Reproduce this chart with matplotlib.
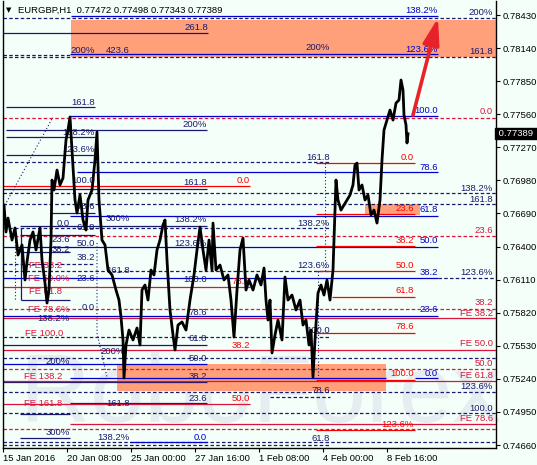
import matplotlib
matplotlib.use('Agg')
import matplotlib.pyplot as plt
from matplotlib.patches import Rectangle

plt.rcParams['font.family'] = ['Liberation Sans', 'DejaVu Sans']

# EURGBP H1, bar index (1 bar = 1 hour of trading) and price
bars = [1, 3, 5, 9, 12, 15, 19, 22, 24, 27, 30, 33, 37, 39, 42, 44, 46, 48, 49, 51,
        54, 57, 60, 63, 65, 67, 69, 72, 74, 77, 80, 83, 85, 89, 92, 94, 96, 99, 102, 105,
        109, 113, 116, 118, 120, 121, 123, 126, 130, 134, 137, 139, 142, 145, 148, 151, 154, 157, 160, 162,
        164, 167, 170, 172, 175, 179, 183, 187, 191, 194, 197, 200, 203, 206, 209, 210, 213, 217, 221, 225,
        228, 231, 234, 237, 240, 243, 246, 250, 254, 258, 261, 263, 265, 267, 269, 272, 275, 279, 282, 285,
        289, 293, 297, 300, 303, 306, 308, 310, 312, 315, 318, 321, 324, 327, 330, 333, 335, 338, 341, 344,
        347, 350, 352, 354, 356, 359, 362, 365, 368, 371, 374, 377, 379, 381, 384, 387, 390, 393, 396, 398,
        400, 401, 403, 404, 405]
prices = [0.76764, 0.76528, 0.76650, 0.76457, 0.76563, 0.76326, 0.76414, 0.76107, 0.76265, 0.76457,
          0.76528, 0.76370, 0.76563, 0.76282, 0.76080, 0.75905, 0.76019, 0.76457, 0.76983, 0.76896,
          0.77071, 0.76940, 0.77001, 0.77334, 0.77422, 0.77536, 0.77246, 0.76808, 0.76694, 0.76852,
          0.76633, 0.76545, 0.76808, 0.76896, 0.77159, 0.77404, 0.76808, 0.76457, 0.76414, 0.76194,
          0.76151, 0.76019, 0.75931, 0.75782, 0.75581, 0.75248, 0.75537, 0.75668, 0.75581, 0.75686,
          0.75537, 0.76019, 0.76063, 0.75931, 0.76194, 0.76151, 0.76370, 0.76457, 0.76589, 0.76633,
          0.76282, 0.75844, 0.75625, 0.75493, 0.75712, 0.75739, 0.75668, 0.75931, 0.76151, 0.76370,
          0.76571, 0.76370, 0.76194, 0.76457, 0.76194, 0.76606, 0.76194, 0.76238, 0.76107, 0.76151,
          0.75931, 0.75607, 0.76019, 0.76370, 0.76475, 0.76019, 0.76107, 0.76019, 0.76151, 0.76063,
          0.76212, 0.75931, 0.75756, 0.75931, 0.75467, 0.75625, 0.75756, 0.75581, 0.76133, 0.75931,
          0.75975, 0.75844, 0.75931, 0.75712, 0.75756, 0.75537, 0.75668, 0.75256, 0.75581, 0.75993,
          0.76063, 0.75975, 0.76107, 0.75931, 0.76194, 0.76983, 0.76808, 0.76720, 0.76764, 0.76808,
          0.76852, 0.76940, 0.77115, 0.77132, 0.76896, 0.76940, 0.76808, 0.76852, 0.76677, 0.76720,
          0.76606, 0.76808, 0.77159, 0.77422, 0.77509, 0.77597, 0.77509, 0.77658, 0.77685, 0.77860,
          0.77772, 0.77553, 0.77466, 0.77308, 0.77389]
last_price = 0.77389

# fibo levels: (price, first bar, last bar)
navy_dashed = [(0.78408, 0, 493), (0.78079, 0, 67), (0.78062, 0, 493), (0.77141, 0, 327),
               (0.76870, 0, 493), (0.76773, 0, 493), (0.76563, 0, 327), (0.76247, 0, 92),
               (0.76186, 0, 327), (0.76124, 435, 493), (0.75607, 0, 327), (0.75423, 0, 493),
               (0.75125, 0, 493), (0.75081, 267, 327), (0.74941, 0, 493), (0.74687, 0, 493),
               (0.74660, 0, 327)]
blue_solid = [(0.78421, 68, 435), (0.78088, 67, 435), (0.77545, 67, 435), (0.77054, 74, 435),
              (0.76668, 67, 435), (0.76396, 0, 435), (0.76124, 0, 435), (0.75791, 0, 435),
              (0.75370, 0, 204), (0.75248, 67, 383), (0.75248, 412, 435), (0.74687, 127, 204)]
navy_solid = [(0.78272, 0, 205), (0.77623, 3, 92), (0.77422, 3, 204), (0.77360, 3, 92),
              (0.77203, 3, 92), (0.76905, 0, 204), (0.76694, 47, 92), (0.76580, 17, 204),
              (0.76501, 17, 92), (0.76352, 17, 67), (0.75931, 18, 67), (0.75537, 0, 204),
              (0.75213, 0, 204), (0.75028, 67, 204), (0.74932, 17, 67), (0.74722, 17, 67)]
crimson_dashed = [(0.77531, 0, 493), (0.76493, 0, 493), (0.75853, 0, 493), (0.75327, 0, 493),
                  (0.74800, 0, 493)]
crimson_solid = [(0.76045, 0, 247), (0.75774, 0, 493), (0.75493, 0, 493), (0.75221, 0, 493),
                 (0.75019, 0, 247), (0.74844, 67, 493)]
red_solid = [(0.77132, 313, 412), (0.76931, 0, 247), (0.76685, 313, 412), (0.76405, 313, 412),
             (0.76186, 313, 412), (0.75958, 329, 412), (0.75642, 313, 412), (0.75230, 313, 412),
             (0.74791, 313, 412)]

# dotted trend lines joining fibo anchors
dotted_bars = [[2, 50], [12, 12], [94, 94, 104], [322, 322], [315, 315]]
dotted_prices = [[0.76764, 0.77536], [0.76563, 0.75931], [0.76431, 0.75642, 0.75256],
                 [0.77132, 0.76186], [0.76186, 0.75248]]

# level labels: (text, bar of right end, price)
navy_text = [('261.8', 205, 0.78325), ('200%', 92, 0.78123), ('423.6', 127, 0.78123),
             ('200%', 327, 0.78141), ('200%', 490, 0.78448), ('161.8', 490, 0.78114),
             ('161.8', 92, 0.77667), ('200%', 204, 0.77474), ('138.2%', 92, 0.77404),
             ('123.6%', 92, 0.77255), ('161.8', 327, 0.77185), ('100.0', 92, 0.76983),
             ('161.8', 204, 0.76966), ('138.2%', 490, 0.76913), ('161.8', 490, 0.76817),
             ('78.6', 92, 0.76747), ('300%', 127, 0.76650), ('138.2%', 204, 0.76633),
             ('138.2%', 327, 0.76606), ('0.0', 67, 0.76606), ('61.8', 92, 0.76563),
             ('23.6', 67, 0.76466), ('50.0', 92, 0.76431), ('123.6%', 204, 0.76431),
             ('38.2', 67, 0.76370), ('38.2', 92, 0.76300), ('123.6%', 327, 0.76238),
             ('161.8', 127, 0.76194), ('123.6%', 490, 0.76177), ('23.6', 92, 0.76124),
             ('100.0', 204, 0.76107), ('0.0', 92, 0.75870), ('78.6', 204, 0.75826),
             ('138.2%', 67, 0.75765), ('100.0', 327, 0.75660), ('61.8', 204, 0.75590),
             ('200%', 122, 0.75476), ('50.0', 204, 0.75423), ('200%', 67, 0.75388),
             ('38.2', 204, 0.75265), ('123.6%', 490, 0.75177), ('78.6', 327, 0.75134),
             ('23.6', 204, 0.75072), ('161.8', 127, 0.75028), ('100.0', 490, 0.74976),
             ('300%', 67, 0.74774), ('138.2%', 127, 0.74730), ('61.8', 327, 0.74713)]
blue_text = [('138.2%', 435, 0.78474), ('123.6%', 435, 0.78132), ('100.0', 435, 0.77597),
             ('78.6', 435, 0.77097), ('61.8', 435, 0.76729), ('50.0', 435, 0.76449),
             ('38.2', 435, 0.76177), ('23.6', 435, 0.75844), ('0.0', 435, 0.75291),
             ('0.0', 204, 0.74730)]
crimson_text = [('0.0', 490, 0.77588), ('23.6', 490, 0.76545), ('38.2', 490, 0.75914),
                ('FE 38.2', 490, 0.75817), ('FE 50.0', 490, 0.75554), ('50.0', 490, 0.75379),
                ('FE 61.8', 490, 0.75274), ('FE 78.6', 490, 0.74897),
                ('FE 38.2', 59, 0.76238), ('FE 50.0%', 67, 0.76124), ('FE 61.8', 59, 0.76010),
                ('FE 78.6%', 67, 0.75844), ('FE 100.0', 60, 0.75642), ('FE 138.2', 59, 0.75265),
                ('FE 161.8', 59, 0.75028)]
red_text = [('0.0', 247, 0.76983), ('0.0', 411, 0.77185), ('23.6', 411, 0.76738),
            ('38.2', 411, 0.76457), ('50.0', 411, 0.76238), ('61.8', 411, 0.76019),
            ('78.6', 411, 0.75695), ('38.2', 247, 0.75537), ('100.0', 411, 0.75291),
            ('50.0', 247, 0.75072), ('123.6%', 411, 0.74844), ('78.6', 247, 0.76098)]

# target zones: (first bar, last bar, low, high)
zones = [(68, 493, 0.78062, 0.78386), (362, 417, 0.76677, 0.76773), (114, 383, 0.75133, 0.75370)]
arrow_from = (410, 0.77553)
arrow_to = (435, 0.78404)

ytick_vals = [0.78430, 0.78140, 0.77850, 0.77560, 0.77270, 0.76980, 0.76690,
              0.76400, 0.76110, 0.75820, 0.75530, 0.75240, 0.74950, 0.74660]
xtick_bars = [0, 64, 128, 192, 256, 320, 384]
xtick_text = ['15 Jan 2016', '20 Jan 08:00', '25 Jan 00:00', '27 Jan 16:00',
              '1 Feb 08:00', '4 Feb 00:00', '8 Feb 16:00']

bg = '#f4fff9'
navy = '#191970'
blue = '#0000cd'
crimson = '#dc143c'
red = '#ff0000'
dash = (0, (2.8, 1.8))
fs = 6.8

fig = plt.figure(figsize=(5.37, 4.65), dpi=100, facecolor=bg)
ax = fig.add_axes([3 / 537, 17 / 465, 493 / 537, 447 / 465], facecolor=bg)
ax.set_xlim(0, 493)
ax.set_ylim(0.74634, 0.78553)

# watermark
ax.text(258, 0.75081, 'RoboForex', fontsize=70, color='#e6edf0', ha='center', va='center',
        zorder=0.5)

for x0, x1, lo, hi in zones:
    ax.add_patch(Rectangle((x0, lo), x1 - x0, hi - lo, facecolor='#ffa07a', edgecolor='none', zorder=1))

def draw_levels(levels, color, ls):
    for p, x0, x1 in levels:
        ax.hlines(p, x0, x1, colors=color, linestyles=ls, lw=0.9, zorder=2)

draw_levels(navy_dashed, navy, dash)
draw_levels(crimson_dashed, crimson, dash)
draw_levels(navy_solid, navy, 'solid')
draw_levels(blue_solid, blue, 'solid')
draw_levels(crimson_solid, crimson, 'solid')
draw_levels(red_solid, red, 'solid')

for xs, ps in zip(dotted_bars, dotted_prices):
    ax.plot(xs, ps, color=navy, lw=0.8, ls=(0, (1, 2)), zorder=2)
ax.vlines(18, 0.75931, 0.76563, colors=navy, lw=0.9, zorder=2)

for group, color in [(navy_text, navy), (blue_text, blue), (crimson_text, crimson), (red_text, red)]:
    for t, x, p in group:
        ax.text(x, p, t, ha='right', va='center', fontsize=fs, color=color, zorder=3)

ax.plot(bars, prices, color='black', lw=2.0, zorder=5)

ax.annotate('', xy=arrow_to, xytext=arrow_from,
            arrowprops=dict(arrowstyle='-|>,head_length=1.6,head_width=0.5', mutation_scale=10,
                            lw=2.6, color='#e8222a', shrinkA=0, shrinkB=0), zorder=6)

# axes like the terminal
ax.spines['top'].set_visible(False)
for s in ['left', 'bottom', 'right']:
    ax.spines[s].set_linewidth(1)
ax.yaxis.tick_right()
ax.set_yticks(ytick_vals)
ax.set_yticklabels(['%.5f' % v for v in ytick_vals])
ax.set_xticks(xtick_bars)
ax.set_xticklabels(xtick_text, ha='left')
ax.tick_params(axis='y', direction='out', length=3, pad=2, labelsize=fs)
ax.tick_params(axis='x', direction='out', length=3, pad=1.5, labelsize=fs)

ax.text(1.0, last_price, ' 0.77389 ', transform=ax.get_yaxis_transform(), ha='left', va='center',
        fontsize=fs, color='white', zorder=7,
        bbox=dict(boxstyle='square,pad=0.1', facecolor='black', edgecolor='black'))

fig.text(6 / 537, 1 - 10 / 465, '▼', fontsize=5, family='DejaVu Sans', va='center')
fig.text(18 / 537, 1 - 10 / 465, 'EURGBP,H1  0.77472 0.77498 0.77343 0.77389', fontsize=fs, va='center')

fig.savefig('out.png', dpi=100, facecolor=bg)
